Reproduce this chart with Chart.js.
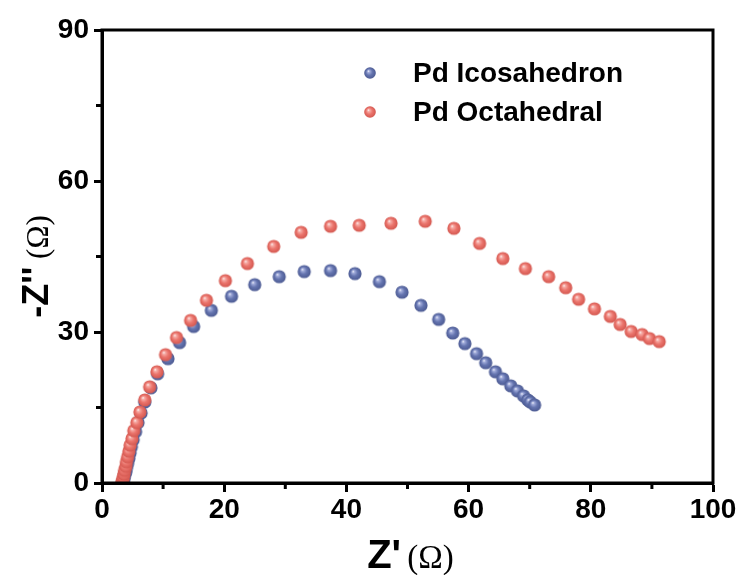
<!DOCTYPE html>
<html>
<head>
<meta charset="utf-8">
<script src="https://cdn.jsdelivr.net/npm/chart.js@4.4.0/dist/chart.umd.min.js"></script>
<style>
  html, body { margin: 0; padding: 0; background: #fff; }
  #wrap { width: 743px; height: 575px; }
</style>
</head>
<body>
<div id="wrap"><canvas id="nyquist" width="743" height="575"></canvas></div>
<script>
// Pd Icosahedron (blue)
const icoZre = [3.4, 3.5, 3.6, 3.7, 3.9, 4.0, 4.2, 4.4, 4.6, 4.8, 5.1, 5.5, 5.9, 6.4, 7.0, 8.0, 9.1, 10.8, 12.7, 15.0,
  17.9, 21.2, 25.0, 29.0, 33.1, 37.4, 41.4, 45.4, 49.1, 52.2, 55.1, 57.4, 59.4, 61.3, 62.8, 64.4, 65.6, 66.9, 68.0, 69.0,
  69.7, 70.1, 70.8];
const icoZim = [0.1, 0.4, 0.9, 1.5, 2.2, 3.0, 3.9, 4.9, 6.0, 7.2, 8.6, 10.2, 12.0, 13.9, 16.1, 18.9, 21.7, 24.7, 27.9, 31.1,
  34.3, 37.1, 39.4, 41.0, 42.0, 42.2, 41.6, 40.0, 37.9, 35.3, 32.5, 29.8, 27.7, 25.7, 23.9, 22.1, 20.7, 19.3, 18.3, 17.3,
  16.5, 16.1, 15.5];

// Pd Octahedral (red)
const octZre = [3.3, 3.3, 3.4, 3.5, 3.6, 3.7, 3.9, 4.0, 4.2, 4.4, 4.6, 4.9, 5.2, 5.7, 6.2, 7.0, 7.8, 9.0, 10.4, 12.2,
  14.5, 17.1, 20.2, 23.8, 28.1, 32.6, 37.4, 42.1, 47.3, 52.9, 57.6, 61.8, 65.6, 69.3, 73.1, 75.9, 78.0, 80.6, 83.2, 84.8,
  86.6, 88.4, 89.6, 91.2];
const octZim = [0.1, 0.3, 0.7, 1.2, 1.8, 2.5, 3.3, 4.2, 5.2, 6.3, 7.5, 8.8, 10.4, 12.0, 14.1, 16.5, 19.1, 22.1, 25.5, 28.9,
  32.3, 36.3, 40.2, 43.6, 47.0, 49.8, 51.0, 51.2, 51.6, 52.0, 50.6, 47.6, 44.6, 42.6, 41.0, 38.8, 36.5, 34.6, 33.1, 31.5,
  30.1, 29.5, 28.7, 28.1];

const seriesNames = ['Pd Icosahedron', 'Pd Octahedral'];
const xTicks = [0, 20, 40, 60, 80, 100];
const yTicks = [0, 30, 60, 90];
const xMinor = [10, 30, 50, 70, 90];
const yMinor = [15, 45, 75];

// little shaded balls like the original markers
function makeBall(base, edge, r) {
  const size = Math.ceil(r * 2 + 2);
  const c = document.createElement('canvas');
  c.width = size; c.height = size;
  const g = c.getContext('2d');
  const cx = size / 2, cy = size / 2;
  const grad = g.createRadialGradient(cx - r * 0.3, cy - r * 0.35, 0, cx, cy, r);
  grad.addColorStop(0, '#ffffff');
  grad.addColorStop(0.2, base.light);
  grad.addColorStop(0.55, base.mid);
  grad.addColorStop(1, edge);
  g.fillStyle = grad;
  g.beginPath();
  g.arc(cx, cy, r, 0, Math.PI * 2);
  g.fill();
  return c;
}

const blueCol = { light: '#a3addb', mid: '#6575b0' };
const redCol = { light: '#f6aea8', mid: '#eb756d' };
const blueBall = makeBall(blueCol, '#4c5a92', 6.6);
const redBall = makeBall(redCol, '#d3574f', 6.6);
const blueBallSm = makeBall(blueCol, '#4c5a92', 5.8);
const redBallSm = makeBall(redCol, '#d3574f', 5.8);

const toPoints = (xs, ys) => xs.map((x, i) => ({ x: x, y: ys[i] }));

// box, minor ticks, axis titles and the legend inside the plot
const decorations = {
  id: 'decorations',
  afterDraw(chart) {
    const ctx = chart.ctx;
    const a = chart.chartArea;
    const xs = chart.scales.x, ys = chart.scales.y;
    ctx.save();
    ctx.strokeStyle = '#000';
    ctx.lineWidth = 3;
    ctx.lineCap = 'square';
    ctx.strokeRect(a.left, a.top, a.right - a.left, a.bottom - a.top);

    // minor ticks, outward
    ctx.lineCap = 'butt';
    ctx.beginPath();
    xMinor.forEach(v => {
      const px = xs.getPixelForValue(v);
      ctx.moveTo(px, a.bottom);
      ctx.lineTo(px, a.bottom + 6);
    });
    yMinor.forEach(v => {
      const py = ys.getPixelForValue(v);
      ctx.moveTo(a.left, py);
      ctx.lineTo(a.left - 6, py);
    });
    ctx.stroke();

    // x title: Z' (Ω)
    ctx.fillStyle = '#000';
    ctx.textBaseline = 'alphabetic';
    ctx.textAlign = 'left';
    const xBold = 'bold 40px "Liberation Sans", Arial, sans-serif';
    const xSerif = '33px "Liberation Serif", "Times New Roman", serif';
    ctx.font = xBold;
    const w1 = ctx.measureText("Z'").width;
    ctx.font = xSerif;
    const w2 = ctx.measureText(' (Ω)').width;
    const sx = (a.left + a.right) / 2 + 4 - (w1 + w2) / 2;
    ctx.font = xBold;
    ctx.fillText("Z'", sx, 568);
    ctx.font = xSerif;
    ctx.fillText(' (Ω)', sx + w1 - 2, 568);

    // y title: -Z'' (Ω)
    const yBold = 'bold 36px "Liberation Sans", Arial, sans-serif';
    const ySerif = '31px "Liberation Serif", "Times New Roman", serif';
    ctx.save();
    ctx.translate(48, (a.top + a.bottom) / 2 + 10);
    ctx.rotate(-Math.PI / 2);
    ctx.font = yBold;
    const v1 = ctx.measureText("-Z''").width;
    ctx.font = ySerif;
    const v2 = ctx.measureText(' (Ω)').width;
    const sy = -(v1 + v2) / 2;
    ctx.font = yBold;
    ctx.fillText("-Z''", sy, 0);
    ctx.font = ySerif;
    ctx.fillText(' (Ω)', sy + v1, 0);
    ctx.restore();

    // legend
    const balls = [blueBallSm, redBallSm];
    ctx.font = 'bold 28px "Liberation Sans", Arial, sans-serif';
    ctx.textBaseline = 'middle';
    seriesNames.forEach((name, i) => {
      const ly = a.top + 43 + i * 39;
      const img = balls[i];
      ctx.drawImage(img, a.left + 268 - img.width / 2, ly - img.height / 2);
      ctx.fillText(name, a.left + 311, ly + 1);
    });
    ctx.restore();
  }
};

const tickFont = { family: '"Liberation Sans", Arial, sans-serif', size: 28, weight: 'bold' };

new Chart(document.getElementById('nyquist'), {
  type: 'scatter',
  data: {
    datasets: [
      {
        label: seriesNames[0],
        data: toPoints(icoZre, icoZim),
        pointStyle: blueBall,
        pointRadius: 7,
        order: 1
      },
      {
        label: seriesNames[1],
        data: toPoints(octZre, octZim),
        pointStyle: redBall,
        pointRadius: 7,
        order: 0
      }
    ]
  },
  options: {
    responsive: false,
    animation: false,
    layout: { padding: { top: 30, right: 30, left: 0, bottom: 0 } },
    plugins: {
      legend: { display: false },
      tooltip: { enabled: false }
    },
    scales: {
      x: {
        type: 'linear',
        min: 0, max: 100,
        afterBuildTicks: s => { s.ticks = xTicks.map(v => ({ value: v })); },
        afterFit: s => { s.height = 92; },
        ticks: { font: tickFont, color: '#000', padding: 1, maxRotation: 0 },
        grid: { drawOnChartArea: false, tickLength: 9, tickWidth: 3, tickColor: '#000' },
        border: { display: true, color: '#000', width: 3 }
      },
      y: {
        type: 'linear',
        min: 0, max: 90,
        afterBuildTicks: s => { s.ticks = yTicks.map(v => ({ value: v })); },
        afterFit: s => { s.width = 102; },
        ticks: { font: tickFont, color: '#000', padding: 5 },
        grid: { drawOnChartArea: false, tickLength: 8, tickWidth: 3, tickColor: '#000' },
        border: { display: true, color: '#000', width: 3 }
      }
    }
  },
  plugins: [decorations]
});
</script>
</body>
</html>
